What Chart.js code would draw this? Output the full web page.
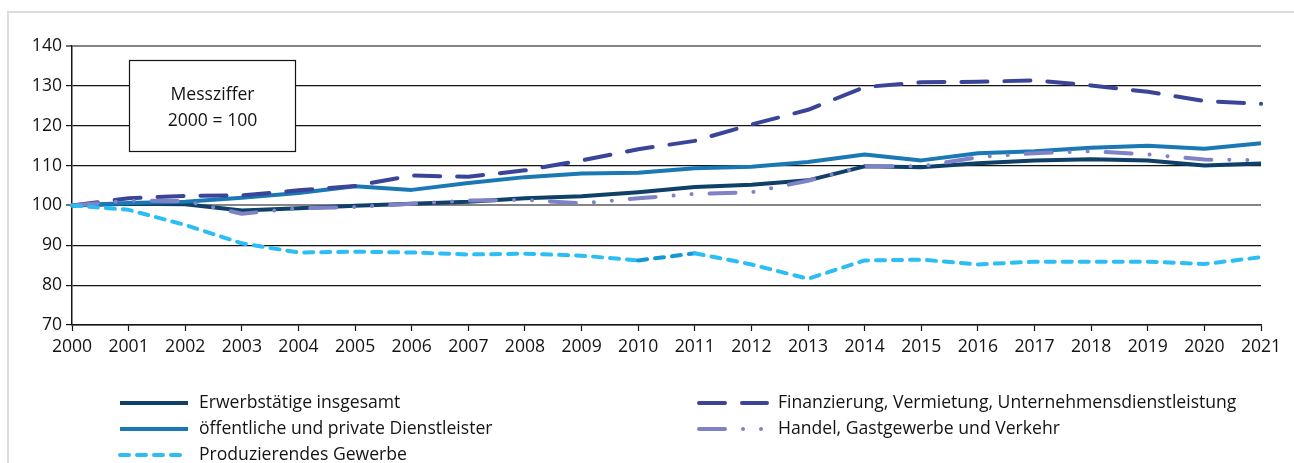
<!DOCTYPE html>
<html>
<head>
<meta charset="utf-8">
<script src="https://cdn.jsdelivr.net/npm/chart.js@4/dist/chart.umd.min.js"></script>
<style>
  body { margin: 0; background: #fff; overflow: hidden; }
  #frame { position: absolute; left: 7px; top: 11px; width: 1300px; height: 470px;
           border-top: 2px solid #dcdcdc; border-left: 2px solid #dcdcdc; }
  #chart { position: absolute; left: 0; top: 0; }
</style>
</head>
<body>
<div id="frame"></div>
<canvas id="chart" width="1294" height="463"></canvas>
<script>
const years = ['2000', '2001', '2002', '2003', '2004', '2005', '2006', '2007', '2008', '2009', '2010',
  '2011', '2012', '2013', '2014', '2015', '2016', '2017', '2018', '2019', '2020', '2021'];

const erwerbstaetige = [100, 100.4, 100.3, 98.7, 99.3, 99.9, 100.4, 100.9, 101.8, 102.3, 103.3,
  104.6, 105.2, 106.3, 109.8, 109.6, 110.6, 111.3, 111.6, 111.3, 110.0, 110.5];
const dienstleister = [100, 100.6, 100.9, 101.9, 103.1, 104.8, 103.9, 105.6, 107.1, 108.0, 108.2,
  109.3, 109.7, 110.9, 112.8, 111.3, 113.1, 113.6, 114.5, 115.0, 114.2, 115.6];
const finanzierung = [100, 101.8, 102.4, 102.5, 103.8, 104.9, 107.5, 107.2, 108.8, 111.3, 114.1,
  116.2, 120.3, 124.0, 129.7, 130.9, 131.0, 131.4, 130.1, 128.5, 126.2, 125.5];
const handel = [100, 101.2, 101.1, 97.9, 99.3, 99.6, 100.4, 101.2, 101.4, 100.5, 101.8,
  102.9, 103.3, 106.2, 109.9, 109.8, 112.1, 113.1, 113.6, 112.8, 111.5, 111.4];
const produzierend = [100, 98.9, 95.1, 90.5, 88.2, 88.4, 88.2, 87.7, 87.9, 87.4, 86.2,
  88.0, 85.2, 81.6, 86.2, 86.4, 85.2, 85.9, 85.9, 85.9, 85.3, 87.0];

const yMin = 70;
const yMax = 140;
const yStep = 10;

const noteLines = ['Messziffer', '2000 = 100'];

const FONT = "'Open Sans', 'Liberation Sans', sans-serif";
const FONT_SIZE = 17.6;
const TEXT = '#141414';

function line(label, values, color, dash, cap) {
  return {
    label: label,
    data: values,
    borderColor: color,
    backgroundColor: color,
    borderWidth: 4,
    borderDash: dash || [],
    borderCapStyle: cap || 'butt',
    borderJoinStyle: 'round',
    pointRadius: 0,
    tension: 0,
    fill: false
  };
}

// first dataset is drawn on top
const prod = line('Produzierendes Gewerbe', produzierend, '#2bbdf4', [9, 8], 'round');
prod.segment = {
  borderColor: function(ctx) { return ctx.p0DataIndex === 10 ? '#1597d5' : undefined; }
};

const datasets = [
  prod,
  line('Handel, Gastgewerbe und Verkehr', handel, '#8082c8', [26, 18, 0.01, 18, 0.01, 18], 'round'),
  line('Finanzierung, Vermietung, Unternehmensdienstleistung', finanzierung, '#3a4599', [26, 17], 'round'),
  line('öffentliche und private Dienstleister', dienstleister, '#1a78b5'),
  line('Erwerbstätige insgesamt', erwerbstaetige, '#0f4068')
];

// legend slots: [dataset index, column, row]
const legendSlots = [[4, 0, 0], [2, 1, 0], [3, 0, 1], [1, 1, 1], [0, 0, 2]];

const notePlugin = {
  id: 'note',
  beforeDatasetsDraw(chart) {
    const ctx = chart.ctx;
    const a = chart.chartArea;
    const x = a.left + 57.5, y = a.top + 14.5, w = 166, h = 91;
    ctx.save();
    ctx.fillStyle = '#fff';
    ctx.fillRect(x, y, w, h);
    ctx.strokeStyle = TEXT;
    ctx.lineWidth = 1.2;
    ctx.strokeRect(x, y, w, h);
    ctx.fillStyle = TEXT;
    ctx.font = FONT_SIZE + 'px ' + FONT;
    ctx.textAlign = 'center';
    ctx.textBaseline = 'middle';
    ctx.fillText(noteLines[0], x + w / 2, y + 34);
    ctx.fillText(noteLines[1], x + w / 2, y + 60);
    ctx.restore();
  }
};

const legendPlugin = {
  id: 'sideLegend',
  afterDraw(chart) {
    const ctx = chart.ctx;
    const colX = [118, 697];
    const rowY = [403, 429, 455];
    ctx.save();
    ctx.font = FONT_SIZE + 'px ' + FONT;
    ctx.textBaseline = 'middle';
    ctx.textAlign = 'left';
    legendSlots.forEach(function(slot) {
      const ds = chart.data.datasets[slot[0]];
      const x = colX[slot[1]], y = rowY[slot[2]];
      ctx.beginPath();
      ctx.setLineDash(ds.borderDash);
      ctx.lineCap = ds.borderCapStyle;
      ctx.lineWidth = ds.borderWidth;
      ctx.strokeStyle = ds.borderColor;
      ctx.moveTo(x + 2, y);
      ctx.lineTo(x + 70, y);
      ctx.stroke();
      ctx.setLineDash([]);
      ctx.fillStyle = TEXT;
      ctx.fillText(ds.label, x + 81, y);
    });
    ctx.restore();
  }
};

const config = {
  type: 'line',
  data: { labels: years, datasets: datasets },
  plugins: [notePlugin, legendPlugin],
  options: {
    responsive: false,
    animation: false,
    devicePixelRatio: 1,
    layout: { padding: { left: 0, top: 46, right: 33, bottom: 98 } },
    plugins: { legend: { display: false }, tooltip: { enabled: false } },
    scales: {
      x: {
        offset: false,
        afterFit: function(scale) { scale.height = 40; },
        grid: { drawOnChartArea: false, drawTicks: true, tickLength: 6, tickColor: TEXT, tickWidth: 1.2 },
        border: { color: TEXT, width: 1.5 },
        ticks: { color: TEXT, font: { family: FONT, size: FONT_SIZE }, padding: 5, maxRotation: 0, autoSkip: false }
      },
      y: {
        min: yMin,
        max: yMax,
        afterFit: function(scale) { scale.width = 72; },
        grid: {
          color: function(c) { return (c.tick.value === 140 || c.tick.value === 100) ? '#858585' : TEXT; },
          lineWidth: function(c) { return (c.tick.value === 140 || c.tick.value === 100) ? 2 : 1.2; },
          tickColor: TEXT,
          tickWidth: 1.2,
          tickLength: 6
        },
        border: { color: TEXT, width: 1.5 },
        ticks: { stepSize: yStep, color: TEXT, font: { family: FONT, size: FONT_SIZE }, padding: 4 }
      }
    }
  }
};

const myChart = new Chart(document.getElementById('chart'), config);
</script>
</body>
</html>
